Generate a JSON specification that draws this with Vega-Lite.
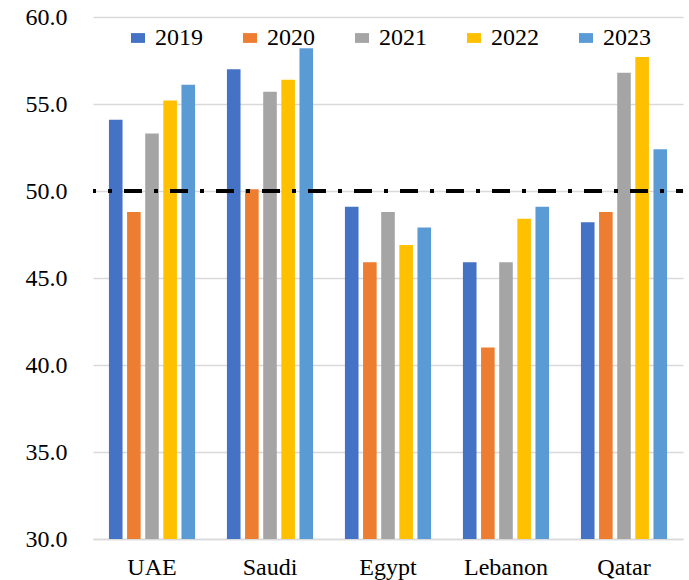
{
  "$schema": "https://vega.github.io/schema/vega-lite/v6.json",
  "autosize": {"type": "none"},
  "width": 590,
  "height": 522,
  "padding": {"left": 93, "top": 17, "right": 6, "bottom": 41},
  "background": "white",
  "config": {
    "view": {"stroke": null},
    "font": "Liberation Serif",
    "axis": {"labelFont": "Liberation Serif", "labelColor": "#000000"},
    "legend": {"labelFont": "Liberation Serif"}
  },
  "data": {
    "values": [
      {"country": "UAE", "year": "2019", "value": 54.1},
      {"country": "UAE", "year": "2020", "value": 48.8},
      {"country": "UAE", "year": "2021", "value": 53.3},
      {"country": "UAE", "year": "2022", "value": 55.2},
      {"country": "UAE", "year": "2023", "value": 56.1},
      {"country": "Saudi", "year": "2019", "value": 57.0},
      {"country": "Saudi", "year": "2020", "value": 50.1},
      {"country": "Saudi", "year": "2021", "value": 55.7},
      {"country": "Saudi", "year": "2022", "value": 56.4},
      {"country": "Saudi", "year": "2023", "value": 58.2},
      {"country": "Egypt", "year": "2019", "value": 49.1},
      {"country": "Egypt", "year": "2020", "value": 45.9},
      {"country": "Egypt", "year": "2021", "value": 48.8},
      {"country": "Egypt", "year": "2022", "value": 46.9},
      {"country": "Egypt", "year": "2023", "value": 47.9},
      {"country": "Lebanon", "year": "2019", "value": 45.9},
      {"country": "Lebanon", "year": "2020", "value": 41.0},
      {"country": "Lebanon", "year": "2021", "value": 45.9},
      {"country": "Lebanon", "year": "2022", "value": 48.4},
      {"country": "Lebanon", "year": "2023", "value": 49.1},
      {"country": "Qatar", "year": "2019", "value": 48.2},
      {"country": "Qatar", "year": "2020", "value": 48.8},
      {"country": "Qatar", "year": "2021", "value": 56.8},
      {"country": "Qatar", "year": "2022", "value": 57.7},
      {"country": "Qatar", "year": "2023", "value": 52.4}
    ]
  },
  "layer": [
    {
      "mark": {"type": "bar", "clip": true},
      "encoding": {
        "x": {
          "field": "country",
          "type": "nominal",
          "sort": ["UAE", "Saudi", "Egypt", "Lebanon", "Qatar"],
          "scale": {"paddingInner": 0.27, "paddingOuter": 0.135},
          "axis": {
            "title": null,
            "labelAngle": 0,
            "labelFont": "Liberation Serif",
            "labelFontSize": 24,
            "labelPadding": 16,
            "ticks": false,
            "domain": true,
            "domainColor": "#D9D9D9",
            "domainWidth": 1.5,
            "grid": false
          }
        },
        "xOffset": {
          "field": "year",
          "type": "nominal",
          "scale": {"paddingInner": 0.25, "paddingOuter": 0}
        },
        "y": {
          "field": "value",
          "type": "quantitative",
          "scale": {"domain": [30, 60], "nice": false, "zero": false},
          "axis": {
            "title": null,
            "values": [30, 35, 40, 45, 50, 55, 60],
            "format": ".1f",
            "labelFont": "Liberation Serif",
            "labelFontSize": 24,
            "labelPadding": 26,
            "ticks": false,
            "domain": false,
            "grid": true,
            "gridColor": "#D9D9D9",
            "gridWidth": 1.5
          }
        },
        "color": {
          "field": "year",
          "type": "nominal",
          "scale": {
            "domain": ["2019", "2020", "2021", "2022", "2023"],
            "range": ["#4472C4", "#ED7D31", "#A5A5A5", "#FFC000", "#5B9BD5"]
          },
          "legend": {
            "title": null,
            "orient": "none",
            "direction": "horizontal",
            "legendX": 33,
            "legendY": 9,
            "symbolType": "M-1,-0.7H1V0.7H-1Z",
            "symbolSize": 196,
            "symbolStrokeWidth": 0,
            "labelFont": "Liberation Serif",
            "labelFontSize": 24,
            "labelOffset": 5,
            "columnPadding": 35,
            "labelColor": "#000000"
          }
        }
      }
    },
    {
      "mark": {
        "type": "rule",
        "color": "#000000",
        "strokeWidth": 3.5,
        "strokeDash": [18, 12, 4, 12],
        "strokeDashOffset": 11
      },
      "encoding": {
        "y": {"datum": 50, "type": "quantitative"}
      }
    }
  ]
}
